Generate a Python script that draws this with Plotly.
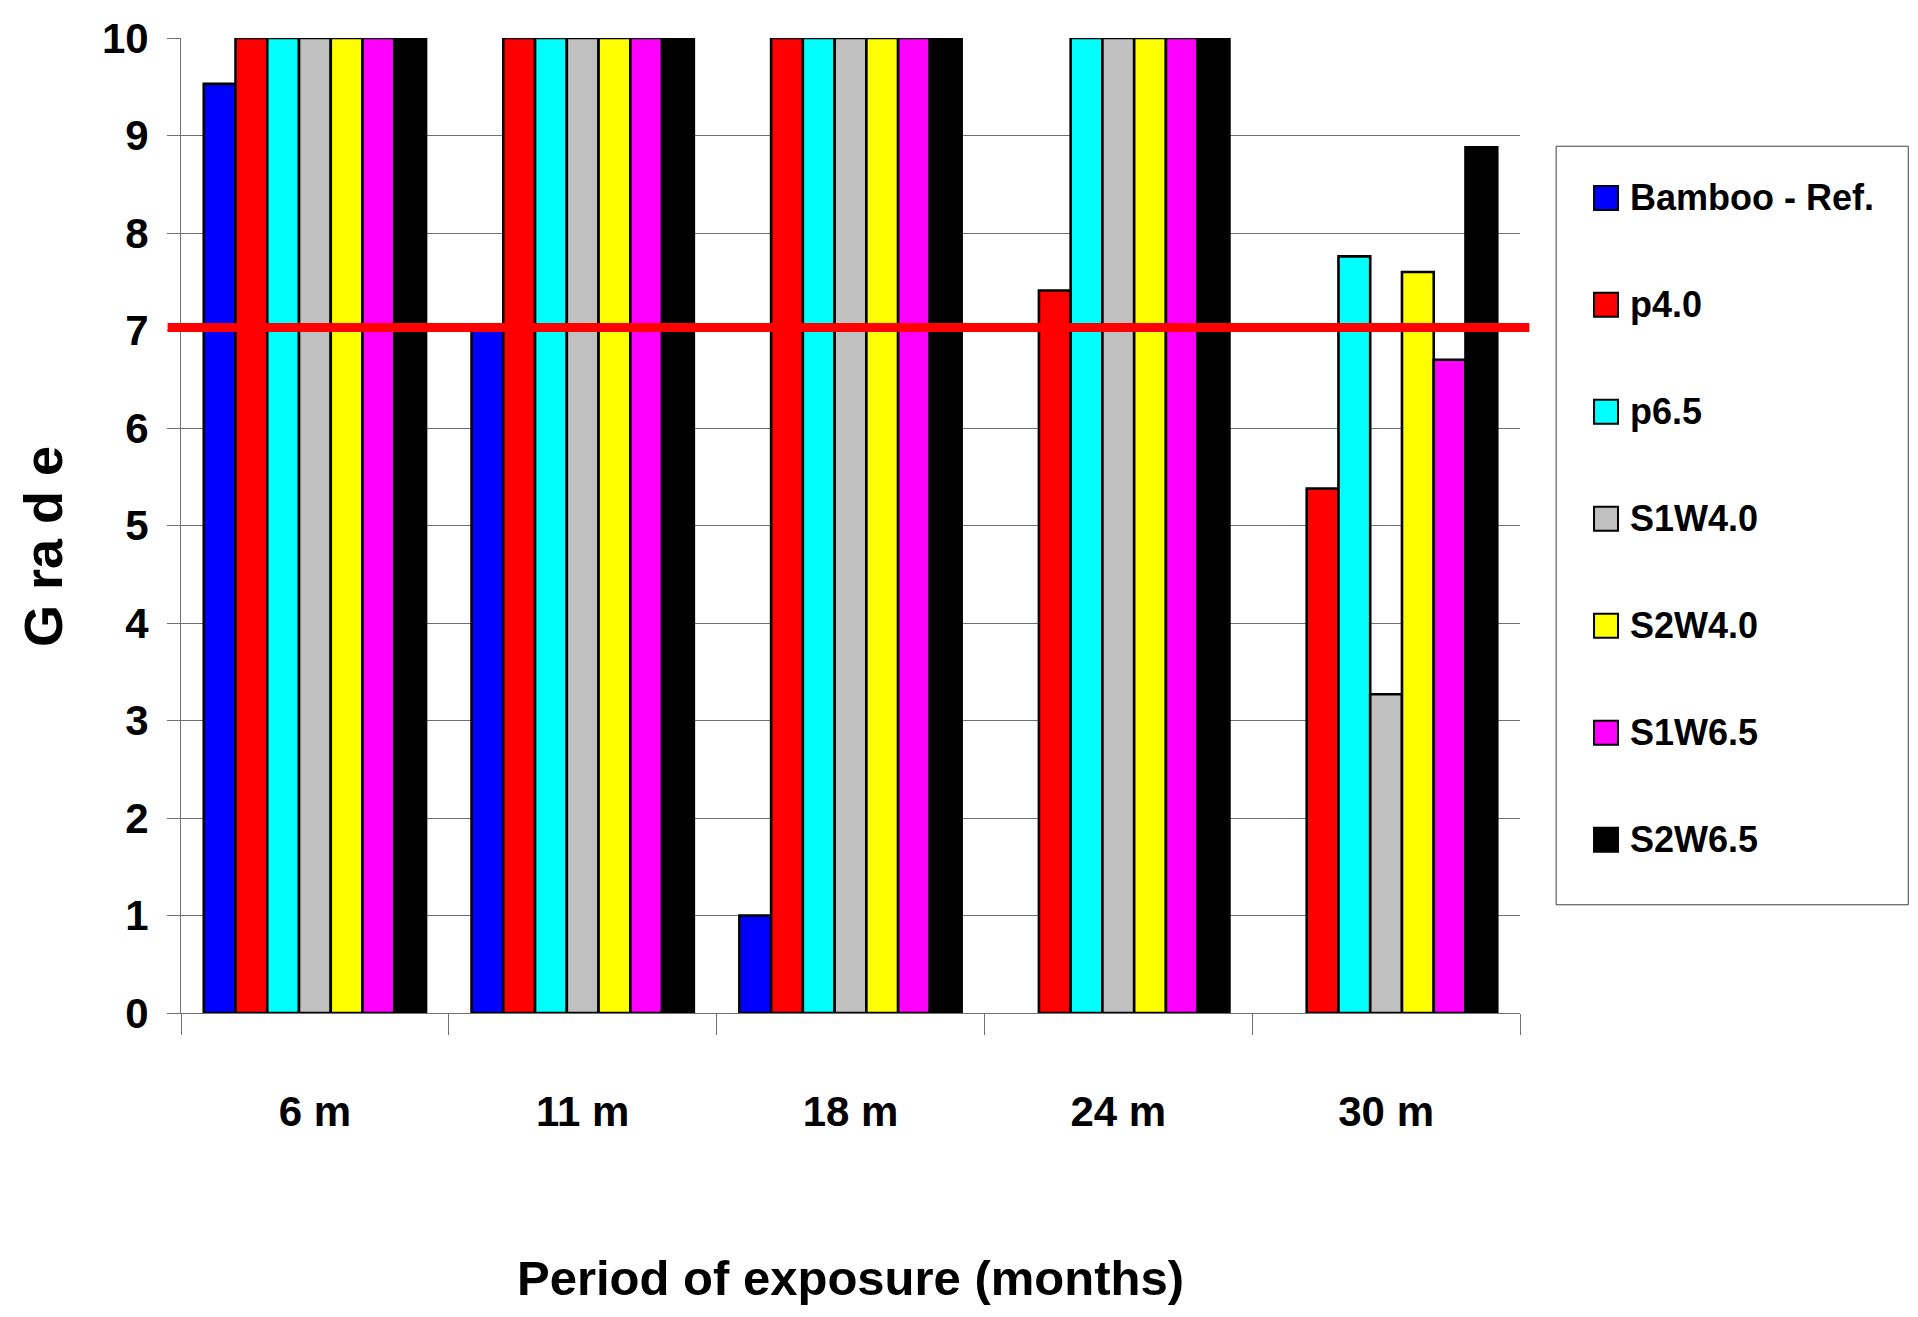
import plotly.graph_objects as go

# %%
periods = ["6 m", "11 m", "18 m", "24 m", "30 m"]
series_names = ["Bamboo - Ref.", "p4.0", "p6.5", "S1W4.0", "S2W4.0", "S1W6.5", "S2W6.5"]
series_colors = ["#0000FF", "#FF0000", "#00FFFF", "#C0C0C0", "#FFFF00", "#FF00FF", "#000000"]

bamboo_ref = [9.53, 7.0, 1.0, None, None]
p4_0 = [10, 10, 10, 7.41, 5.38]
p6_5 = [10, 10, 10, 10, 7.76]
s1w4_0 = [10, 10, 10, 10, 3.27]
s2w4_0 = [10, 10, 10, 10, 7.6]
s1w6_5 = [10, 10, 10, 10, 6.7]
s2w6_5 = [10, 10, 10, 10, 8.88]
series_values = [bamboo_ref, p4_0, p6_5, s1w4_0, s2w4_0, s1w6_5, s2w6_5]

threshold = 7.03
grade_ticks = list(range(0, 11))

FONT = "Liberation Sans, Arial"
AXIS_GRAY = "#707070"

# %%
fig = go.Figure()

for name, values, color in zip(series_names, series_values, series_colors):
    fig.add_trace(
        go.Bar(
            x=periods,
            y=values,
            name=name,
            marker=dict(color=color, line=dict(color="black", width=2.6)),
            showlegend=False,
        )
    )

# threshold line
fig.add_shape(
    type="line", xref="paper", yref="y",
    x0=-0.01, x1=1.007, y0=threshold, y1=threshold,
    line=dict(color="#FF0000", width=9), layer="above",
)

# legend drawn by hand so the colour boxes can be as big as in the original
legend_top = 0.836
legend_step = 0.1097
fig.add_shape(
    type="rect", xref="paper", yref="paper",
    x0=1.027, x1=1.29, y0=0.111, y1=0.889,
    line=dict(color="#404040", width=1), fillcolor="white",
)
for i, (name, color) in enumerate(zip(series_names, series_colors)):
    yc = legend_top - i * legend_step
    fig.add_shape(
        type="rect", xref="paper", yref="paper",
        x0=1.0553, x1=1.0732, y0=yc - 0.0123, y1=yc + 0.0123,
        line=dict(color="black", width=2), fillcolor=color,
    )
    fig.add_annotation(
        x=1.081, y=yc, xref="paper", yref="paper",
        text=name, showarrow=False, xanchor="left", yanchor="middle",
        font=dict(size=36, weight="bold", family=FONT, color="black"),
    )

fig.add_annotation(
    x=-0.103, y=0.478, xref="paper", yref="paper",
    text="G ra d e", showarrow=False, textangle=-90,
    xanchor="center", yanchor="middle",
    font=dict(size=54, weight="bold", family=FONT, color="black"),
)
fig.add_annotation(
    x=0.5, y=-0.272, xref="paper", yref="paper",
    text="Period of exposure (months)", showarrow=False,
    xanchor="center", yanchor="middle",
    font=dict(size=49, weight="bold", family=FONT, color="black"),
)

fig.update_layout(
    width=1918,
    height=1317,
    margin=dict(l=181, r=398, t=38, b=304),
    paper_bgcolor="white",
    plot_bgcolor="white",
    barmode="group",
    bargap=0.17,
    bargroupgap=0,
    font=dict(family=FONT, color="black"),
    xaxis=dict(
        tickson="boundaries",
        ticks="outside",
        ticklen=21,
        tickcolor=AXIS_GRAY,
        showline=True,
        linecolor=AXIS_GRAY,
        showgrid=False,
        tickfont=dict(size=42, weight="bold"),
        ticklabelstandoff=62,
    ),
    yaxis=dict(
        range=[0, 10],
        tickvals=grade_ticks,
        ticks="outside",
        ticklen=13,
        tickcolor=AXIS_GRAY,
        showline=True,
        linecolor=AXIS_GRAY,
        gridcolor=AXIS_GRAY,
        gridwidth=1,
        zeroline=False,
        tickfont=dict(size=42, weight="bold"),
        ticklabelstandoff=10,
    ),
)

fig.write_html(
    "out.html",
    config={"displayModeBar": False},
    post_script="document.body.style.margin='0';",
)
